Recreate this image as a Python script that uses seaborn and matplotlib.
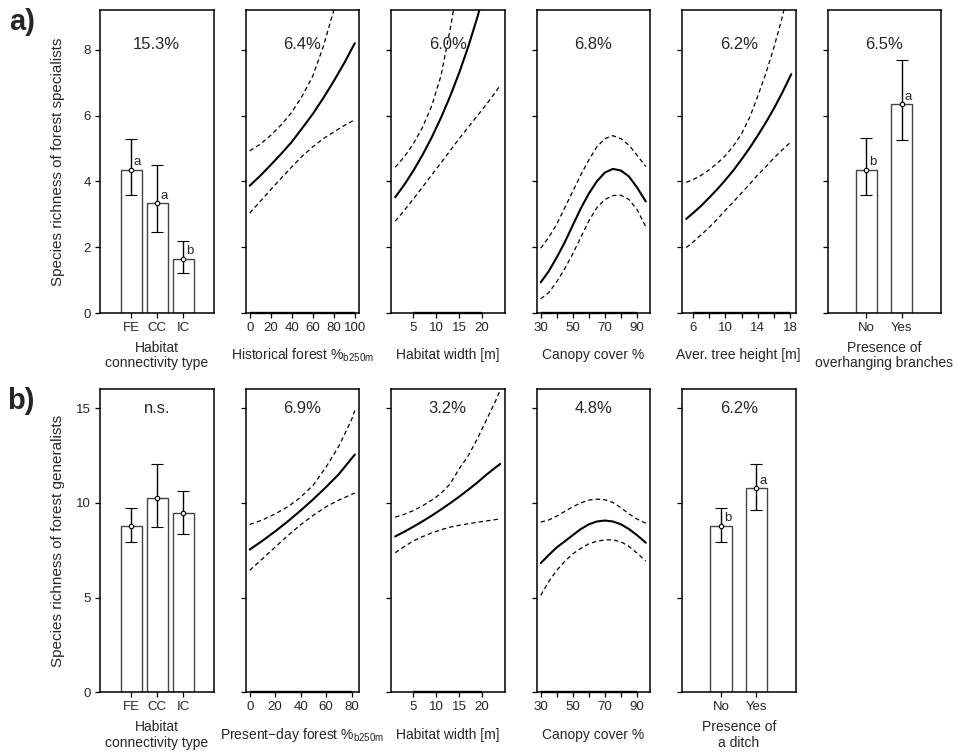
import numpy as np
import pandas as pd
import matplotlib
matplotlib.use("Agg")
import matplotlib.pyplot as plt
import seaborn as sns

# ---------------- DATA ----------------
# Row a) forest specialists
conn_types = ["FE", "CC", "IC"]
spec_conn_mean = [4.35, 3.33, 1.65]
spec_conn_lo = [3.60, 2.45, 1.22]
spec_conn_hi = [5.30, 4.50, 2.20]
spec_conn_letters = ["a", "a", "b"]

hist_x = [0, 10, 20, 30, 40, 50, 60, 70, 80, 90, 100]
hist_mean = [3.87, 4.17, 4.50, 4.84, 5.20, 5.62, 6.05, 6.53, 7.05, 7.60, 8.20]
hist_hi = [4.93, 5.13, 5.40, 5.72, 6.10, 6.60, 7.20, 8.10, 9.20, 10.30, 11.30]
hist_lo = [3.04, 3.39, 3.75, 4.10, 4.44, 4.77, 5.05, 5.30, 5.50, 5.70, 5.87]

width_x = [1, 3, 5, 7, 9, 11, 13, 15, 17, 19, 21, 23, 24]
spec_width_mean = [3.52, 3.90, 4.33, 4.81, 5.34, 5.93, 6.58, 7.30, 8.10, 9.00, 10.0, 11.1, 11.7]
spec_width_hi = [4.43, 4.75, 5.15, 5.65, 6.30, 7.20, 8.60, 10.2, 12.0, 13.9, 16.0, 18.3, 19.5]
spec_width_lo = [2.79, 3.12, 3.47, 3.83, 4.20, 4.56, 4.93, 5.30, 5.65, 6.00, 6.35, 6.72, 6.93]

canopy_x = [30, 35, 40, 45, 50, 55, 60, 65, 70, 75, 80, 85, 90, 95.5]
spec_canopy_mean = [0.93, 1.27, 1.69, 2.15, 2.67, 3.18, 3.63, 4.00, 4.27, 4.38, 4.33, 4.15, 3.82, 3.39]
spec_canopy_hi = [1.97, 2.30, 2.70, 3.20, 3.70, 4.20, 4.65, 5.05, 5.30, 5.39, 5.30, 5.10, 4.80, 4.45]
spec_canopy_lo = [0.43, 0.62, 0.95, 1.35, 1.80, 2.30, 2.80, 3.20, 3.45, 3.57, 3.58, 3.45, 3.15, 2.62]

height_x = [5.2, 6, 7, 8, 9, 10, 11, 12, 13, 14, 15, 16, 17, 18.1]
height_mean = [2.86, 3.03, 3.25, 3.50, 3.76, 4.04, 4.34, 4.67, 5.02, 5.40, 5.80, 6.23, 6.70, 7.26]
height_hi = [3.97, 4.05, 4.18, 4.35, 4.55, 4.78, 5.08, 5.45, 5.95, 6.60, 7.30, 8.10, 9.00, 10.2]
height_lo = [1.99, 2.15, 2.37, 2.60, 2.85, 3.12, 3.38, 3.65, 3.92, 4.20, 4.45, 4.72, 4.96, 5.21]

yes_no = ["No", "Yes"]
branch_mean = [4.35, 6.35]
branch_lo = [3.59, 5.26]
branch_hi = [5.33, 7.69]
branch_letters = ["b", "a"]

spec_pct = ["15.3%", "6.4%", "6.0%", "6.8%", "6.2%", "6.5%"]

# Row b) forest generalists
gen_conn_mean = [8.80, 10.27, 9.45]
gen_conn_lo = [7.96, 8.75, 8.38]
gen_conn_hi = [9.75, 12.05, 10.64]

present_x = [0, 10, 20, 30, 40, 50, 60, 70, 80, 82.5]
present_mean = [7.54, 8.00, 8.50, 9.03, 9.60, 10.20, 10.84, 11.52, 12.35, 12.55]
present_hi = [8.86, 9.10, 9.42, 9.80, 10.30, 10.95, 11.90, 13.00, 14.40, 14.88]
present_lo = [6.44, 7.05, 7.67, 8.28, 8.85, 9.35, 9.80, 10.15, 10.45, 10.52]

gen_width_mean = [8.23, 8.48, 8.75, 9.03, 9.33, 9.65, 9.98, 10.33, 10.70, 11.08, 11.50, 11.88, 12.06]
gen_width_hi = [9.25, 9.40, 9.60, 9.85, 10.15, 10.50, 11.00, 11.80, 12.50, 13.40, 14.40, 15.40, 15.97]
gen_width_lo = [7.37, 7.70, 8.00, 8.22, 8.42, 8.58, 8.72, 8.82, 8.90, 8.98, 9.05, 9.12, 9.16]

gen_canopy_mean = [6.82, 7.25, 7.65, 7.97, 8.30, 8.62, 8.87, 9.02, 9.07, 9.02, 8.87, 8.62, 8.30, 7.90]
gen_canopy_hi = [8.99, 9.10, 9.30, 9.55, 9.80, 10.00, 10.15, 10.20, 10.17, 10.02, 9.75, 9.42, 9.15, 8.93]
gen_canopy_lo = [5.12, 5.85, 6.44, 6.92, 7.31, 7.60, 7.84, 7.98, 8.05, 8.05, 7.95, 7.70, 7.35, 6.93]

ditch_mean = [8.80, 10.78]
ditch_lo = [7.95, 9.65]
ditch_hi = [9.75, 12.03]
ditch_letters = ["b", "a"]

gen_pct = ["n.s.", "6.9%", "3.2%", "4.8%", "6.2%"]

# ---------------- STYLE ----------------
sns.set_style("ticks")
plt.rcParams["font.family"] = ["Liberation Sans", "DejaVu Sans"]
plt.rcParams["mathtext.fontset"] = "custom"
plt.rcParams["mathtext.rm"] = "Liberation Sans"
plt.rcParams["mathtext.it"] = "Liberation Sans:italic"
plt.rcParams["axes.linewidth"] = 1.0
plt.rcParams["xtick.direction"] = "out"
plt.rcParams["ytick.direction"] = "out"

TICK_FS = 9.5
LAB_FS = 10
PCT_FS = 12

fig = plt.figure(figsize=(9.61, 7.52), dpi=100)
W, H = 961.0, 752.0
left_px = [100, 245.5, 391, 536.5, 682, 827.5]
w_px = 113.5
h_px = 303.0
bottoms_px = {"a": 313.0, "b": 692.3}


def make_ax(row, col):
    b = bottoms_px[row]
    ax = fig.add_axes([left_px[col] / W, 1 - b / H, w_px / W, h_px / H])
    for s in ax.spines.values():
        s.set_visible(True)
        s.set_linewidth(1.1)
        s.set_color("black")
    ax.tick_params(axis="both", length=3.5, width=0.9, labelsize=TICK_FS,
                   color="black", pad=3)
    return ax


def finish(ax, row, col, xlabel, pct, pct_y, yticks):
    ax.set_yticks(yticks)
    if col == 0:
        ax.set_yticklabels([str(t) for t in yticks])
    else:
        ax.set_yticklabels([])
    ax.set_ylabel("")
    ax.set_xlabel(xlabel, fontsize=LAB_FS, linespacing=1.15)
    ax.xaxis.set_label_coords(0.5, -0.14)
    ax.xaxis.label.set_va("center")
    ax.text(0.5, pct_y, pct, transform=ax.transAxes, ha="center",
            va="center", fontsize=PCT_FS)


def bar_panel(ax, cats, mean, lo, hi, letters, width, xlim):
    sns.barplot(x=cats, y=mean, ax=ax, color="white", edgecolor="#444444",
                linewidth=1.0, width=width, saturation=1, errorbar=None)
    pos = np.arange(len(cats))
    m = np.array(mean)
    yerr = [m - np.array(lo), np.array(hi) - m]
    ax.errorbar(pos, m, yerr=yerr, fmt="o", ms=3.2, mfc="white", mec="black",
                mew=0.8, ecolor="black", elinewidth=1.0, capsize=4, capthick=1.0,
                zorder=5)
    if letters is not None:
        for p, v, t in zip(pos, m, letters):
            ax.annotate(t, (p, v), xytext=(4.6, 5.4), textcoords="offset points",
                        ha="center", va="center", fontsize=9.5)
    ax.set_xlim(*xlim)
    ax.set_xticks(pos)
    ax.set_xticklabels(cats)


def curve_panel(ax, x, mean, lo, hi, xlim, major, labels, minor=None):
    sns.lineplot(x=x, y=hi, ax=ax, color="black", linewidth=0.9,
                 linestyle=(0, (3.5, 2.5)), estimator=None, sort=False)
    sns.lineplot(x=x, y=lo, ax=ax, color="black", linewidth=0.9,
                 linestyle=(0, (3.5, 2.5)), estimator=None, sort=False)
    sns.lineplot(x=x, y=mean, ax=ax, color="black", linewidth=1.5,
                 estimator=None, sort=False)
    ax.set_xlim(*xlim)
    ticks = minor if minor is not None else major
    ax.set_xticks(ticks)
    ax.set_xticklabels([labels.get(t, "") for t in ticks])
    # axis line between first and last tick (drawn over the frame)
    ax.plot([ticks[0], ticks[-1]], [0, 0], color="black", lw=1.7,
            transform=ax.get_xaxis_transform(), clip_on=False, solid_capstyle="butt")


# ---------------- ROW a ----------------
ya = [0, 2, 4, 6, 8]
ylim_a = (0, 9.21)
pct_y_a = 0.885

ax = make_ax("a", 0)
bar_panel(ax, conn_types, spec_conn_mean, spec_conn_lo, spec_conn_hi,
          spec_conn_letters, 0.8, (-1.19, 3.15))
ax.set_ylim(*ylim_a)
finish(ax, "a", 0, "Habitat\nconnectivity type", spec_pct[0], pct_y_a, ya)
ax.set_ylabel("Species richness of forest specialists", fontsize=11)
ax.yaxis.set_label_coords(-0.31, 0.5)

ax = make_ax("a", 1)
curve_panel(ax, hist_x, hist_mean, hist_lo, hist_hi, (-4, 104),
            [0, 20, 40, 60, 80, 100], {t: str(t) for t in [0, 20, 40, 60, 80, 100]})
ax.set_ylim(*ylim_a)
finish(ax, "a", 1, "Historical forest %$_{\\mathrm{b250m}}$", spec_pct[1], pct_y_a, ya)

ax = make_ax("a", 2)
curve_panel(ax, width_x, spec_width_mean, spec_width_lo, spec_width_hi, (0.08, 24.92),
            [5, 10, 15, 20], {t: str(t) for t in [5, 10, 15, 20]})
ax.set_ylim(*ylim_a)
finish(ax, "a", 2, "Habitat width [m]", spec_pct[2], pct_y_a, ya)

ax = make_ax("a", 3)
curve_panel(ax, canopy_x, spec_canopy_mean, spec_canopy_lo, spec_canopy_hi,
            (27.38, 98.12), [30, 50, 70, 90], {t: str(t) for t in [30, 50, 70, 90]},
            minor=[30, 40, 50, 60, 70, 80, 90])
ax.set_ylim(*ylim_a)
finish(ax, "a", 3, "Canopy cover %", spec_pct[3], pct_y_a, ya)

ax = make_ax("a", 4)
curve_panel(ax, height_x, height_mean, height_lo, height_hi, (4.68, 18.62),
            [6, 10, 14, 18], {t: str(t) for t in [6, 10, 14, 18]},
            minor=[6, 8, 10, 12, 14, 16, 18])
ax.set_ylim(*ylim_a)
finish(ax, "a", 4, "Aver. tree height [m]", spec_pct[4], pct_y_a, ya)

ax = make_ax("a", 5)
bar_panel(ax, yes_no, branch_mean, branch_lo, branch_hi, branch_letters, 0.6,
          (-1.1, 2.11))
ax.set_ylim(*ylim_a)
finish(ax, "a", 5, "Presence of\noverhanging branches", spec_pct[5], pct_y_a, ya)

# ---------------- ROW b ----------------
yb = [0, 5, 10, 15]
ylim_b = (0, 16.0)
pct_y_b = 0.935

ax = make_ax("b", 0)
bar_panel(ax, conn_types, gen_conn_mean, gen_conn_lo, gen_conn_hi, None, 0.8,
          (-1.19, 3.15))
ax.set_ylim(*ylim_b)
finish(ax, "b", 0, "Habitat\nconnectivity type", gen_pct[0], pct_y_b, yb)
ax.set_ylabel("Species richness of forest generalists", fontsize=11)
ax.yaxis.set_label_coords(-0.31, 0.5)

ax = make_ax("b", 1)
curve_panel(ax, present_x, present_mean, present_lo, present_hi, (-3.3, 85.8),
            [0, 20, 40, 60, 80], {t: str(t) for t in [0, 20, 40, 60, 80]})
ax.set_ylim(*ylim_b)
finish(ax, "b", 1, "Present\u2212day forest %$_{\\mathrm{b250m}}$", gen_pct[1], pct_y_b, yb)

ax = make_ax("b", 2)
curve_panel(ax, width_x, gen_width_mean, gen_width_lo, gen_width_hi, (0.08, 24.92),
            [5, 10, 15, 20], {t: str(t) for t in [5, 10, 15, 20]})
ax.set_ylim(*ylim_b)
finish(ax, "b", 2, "Habitat width [m]", gen_pct[2], pct_y_b, yb)

ax = make_ax("b", 3)
curve_panel(ax, canopy_x, gen_canopy_mean, gen_canopy_lo, gen_canopy_hi,
            (27.38, 98.12), [30, 50, 70, 90], {t: str(t) for t in [30, 50, 70, 90]},
            minor=[30, 40, 50, 60, 70, 80, 90])
ax.set_ylim(*ylim_b)
finish(ax, "b", 3, "Canopy cover %", gen_pct[3], pct_y_b, yb)

ax = make_ax("b", 4)
bar_panel(ax, yes_no, ditch_mean, ditch_lo, ditch_hi, ditch_letters, 0.6,
          (-1.1, 2.11))
ax.set_ylim(*ylim_b)
finish(ax, "b", 4, "Presence of\na ditch", gen_pct[4], pct_y_b, yb)

# panel letters
fig.text(9 / W, 1 - 8 / H, "a)", fontsize=21, fontweight="bold", ha="left", va="top")
fig.text(7 / W, 1 - 387 / H, "b)", fontsize=21, fontweight="bold", ha="left", va="top")

fig.savefig("out.png", dpi=100)
